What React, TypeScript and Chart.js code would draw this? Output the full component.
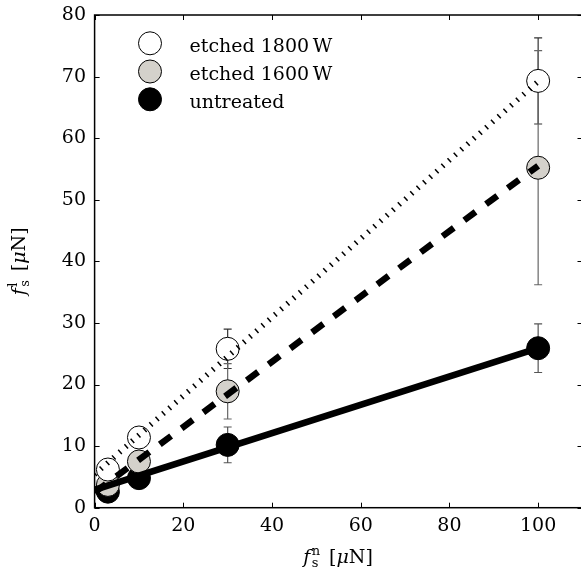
import React, { useEffect, useRef } from "react";
import { Chart, registerables } from "chart.js";

Chart.register(...registerables);

// ---------- data ----------
const normalForce = [3, 10, 30, 100];
const etched1800 = [6.2, 11.4, 25.8, 69.3];
const etched1800Err = [0.6, 0.8, 3.2, 7.0];
const etched1600 = [3.7, 7.5, 18.9, 55.2];
const etched1600Err = [0.5, 0.7, 4.5, 19.0];
const untreated = [2.6, 4.8, 10.2, 25.9];
const untreatedErr = [0.4, 0.6, 2.9, 3.95];

const fitX = [0, 100];
const fit1800 = [5.4, 69.2];
const fit1600 = [2.5, 55.5];
const fitUntreated = [2.9, 25.9];

const xTicks = [0, 20, 40, 60, 80, 100];
const yTicks = [0, 10, 20, 30, 40, 50, 60, 70, 80];
const seriesLabels = ["etched 1800\u2009W", "etched 1600\u2009W", "untreated"];
const seriesFill = ["#ffffff", "#d4d1cb", "#000000"];

const FAM = '"DejaVu Serif", serif';
const FS = 19;
const OFFY = 5; // canvas is shifted up by this many pixels inside the page

const pts = (xs: number[], ys: number[]) => xs.map((x, i) => ({ x, y: ys[i] }));

function drawMathLabel(ctx: CanvasRenderingContext2D, sup: string, cx: number, baseY: number) {
  const base = FS;
  const small = 13;
  ctx.save();
  ctx.fillStyle = "#000";
  ctx.textBaseline = "alphabetic";
  ctx.textAlign = "left";
  ctx.font = `italic ${base}px ${FAM}`;
  const wf = ctx.measureText("f").width;
  ctx.font = `${small}px ${FAM}`;
  const ws = Math.max(ctx.measureText("s").width, ctx.measureText(sup).width);
  ctx.font = `${base}px ${FAM}`;
  const wb = ctx.measureText("[").width;
  ctx.font = `italic ${base}px ${FAM}`;
  const wmu = ctx.measureText("\u03bc").width;
  ctx.font = `${base}px ${FAM}`;
  const wn = ctx.measureText("N]").width;
  const gap = 9;
  const total = wf + 1.5 + ws + gap + wb + wmu + wn;
  let x = cx - total / 2;
  ctx.font = `italic ${base}px ${FAM}`;
  ctx.fillText("f", x, baseY);
  x += wf + 1.5;
  ctx.font = `${small}px ${FAM}`;
  ctx.fillText("s", x, baseY + 4);
  ctx.fillText(sup, x, baseY - 8);
  x += ws + gap;
  ctx.font = `${base}px ${FAM}`;
  ctx.fillText("[", x, baseY);
  x += wb;
  ctx.font = `italic ${base}px ${FAM}`;
  ctx.fillText("\u03bc", x, baseY);
  x += wmu;
  ctx.font = `${base}px ${FAM}`;
  ctx.fillText("N]", x, baseY);
  ctx.restore();
}

const errorBars = [etched1800Err, etched1600Err, untreatedErr];
const seriesVals = [etched1800, etched1600, untreated];
const errorColors = ["#333", "#666", "#555"];

const decorPlugin = {
  id: "decor",
  beforeDatasetsDraw(chart: any) {
    const { ctx, scales } = chart;
    const xs = scales.x;
    const ys = scales.y;
    ctx.save();
    ctx.lineWidth = 1.2;
    errorBars.forEach((errs, si) => {
      ctx.strokeStyle = errorColors[si];
      normalForce.forEach((xv, i) => {
        const px = xs.getPixelForValue(xv);
        const y1 = ys.getPixelForValue(seriesVals[si][i] - errs[i]);
        const y2 = ys.getPixelForValue(seriesVals[si][i] + errs[i]);
        ctx.beginPath();
        ctx.moveTo(px, y1);
        ctx.lineTo(px, y2);
        ctx.moveTo(px - 4, y1);
        ctx.lineTo(px + 4, y1);
        ctx.moveTo(px - 4, y2);
        ctx.lineTo(px + 4, y2);
        ctx.stroke();
      });
    });
    ctx.restore();
  },
  afterDatasetsDraw(chart: any) {
    const { ctx, chartArea, scales } = chart;
    const { left, right, top, bottom } = chartArea;
    ctx.save();
    ctx.strokeStyle = "#000";
    ctx.lineWidth = 1;
    const tl = 5;
    ctx.beginPath();
    xTicks.forEach((v) => {
      const px = Math.round(scales.x.getPixelForValue(v)) + 0.5;
      ctx.moveTo(px, bottom);
      ctx.lineTo(px, bottom - tl);
      ctx.moveTo(px, top);
      ctx.lineTo(px, top + tl);
    });
    yTicks.forEach((v) => {
      const py = Math.round(scales.y.getPixelForValue(v)) + 0.5;
      ctx.moveTo(left, py);
      ctx.lineTo(left + tl, py);
      ctx.moveTo(right, py);
      ctx.lineTo(right - tl, py);
    });
    ctx.stroke();
    ctx.lineWidth = 1.5;
    ctx.strokeRect(left, top, right - left, bottom - top);

    const lx = 150;
    const ly = [43.3, 71.5, 99.3];
    seriesLabels.forEach((lab, i) => {
      const cy = ly[i] + OFFY;
      ctx.beginPath();
      ctx.arc(lx, cy, 11.5, 0, Math.PI * 2);
      ctx.fillStyle = seriesFill[i];
      ctx.fill();
      ctx.lineWidth = 1;
      ctx.strokeStyle = "#000";
      ctx.stroke();
      ctx.fillStyle = "#000";
      ctx.font = `${FS}px ${FAM}`;
      ctx.textAlign = "left";
      ctx.textBaseline = "alphabetic";
      ctx.fillText(lab, 189.5, cy + 8.5);
    });
    ctx.restore();
  },
  afterDraw(chart: any) {
    const { ctx, chartArea } = chart;
    drawMathLabel(ctx, "n", 338, 563 + OFFY);
    ctx.save();
    ctx.translate(25, (chartArea.top + chartArea.bottom) / 2);
    ctx.rotate(-Math.PI / 2);
    drawMathLabel(ctx, "l", 0, 0);
    ctx.restore();
  },
};

export default function App() {
  const ref = useRef<HTMLCanvasElement | null>(null);
  useEffect(() => {
    if (!ref.current) return;
    const tickFont = { family: FAM, size: FS };
    const markerDs = (label: string, ys: number[], fill: string, order: number) => ({
      type: "scatter" as const,
      label,
      data: pts(normalForce, ys),
      backgroundColor: fill,
      borderColor: "#000",
      borderWidth: 1,
      pointRadius: 11.5,
      pointHoverRadius: 11.5,
      showLine: false,
      order,
    });
    const lineDs = (ys: number[], width: number, dash: number[], order: number) => ({
      type: "line" as const,
      label: "",
      data: pts(fitX, ys),
      borderColor: "#000",
      borderWidth: width,
      borderDash: dash,
      borderCapStyle: "butt" as const,
      pointRadius: 0,
      showLine: true,
      fill: false,
      order,
    });
    const chart = new Chart(ref.current, {
      type: "scatter",
      data: {
        datasets: [
          lineDs(fit1800, 5.5, [1.5, 6.8], 0),
          lineDs(fit1600, 6.5, [14, 13], 1),
          lineDs(fitUntreated, 6.5, [], 2),
          markerDs(seriesLabels[0], etched1800, seriesFill[0], 10),
          markerDs(seriesLabels[1], etched1600, seriesFill[1], 11),
          markerDs(seriesLabels[2], untreated, seriesFill[2], 12),
        ] as any,
      },
      options: {
        animation: false,
        responsive: false,
        devicePixelRatio: 1,
        layout: { padding: { left: 0, top: 15, right: 7, bottom: 0 } },
        plugins: {
          legend: { display: false },
          tooltip: { enabled: false },
          title: { display: false },
        },
        scales: {
          x: {
            type: "linear",
            min: 0,
            max: 110,
            afterBuildTicks: (s: any) => {
              s.ticks = xTicks.map((v) => ({ value: v }));
            },
            afterFit: (s: any) => {
              s.height = 68.3;
            },
            grid: { display: false, drawTicks: false },
            border: { display: false },
            ticks: { font: tickFont, color: "#000", padding: 7, maxRotation: 0, autoSkip: false },
          },
          y: {
            type: "linear",
            min: 0,
            max: 80,
            afterBuildTicks: (s: any) => {
              s.ticks = yTicks.map((v) => ({ value: v }));
            },
            afterFit: (s: any) => {
              s.width = 94.6;
            },
            grid: { display: false, drawTicks: false },
            border: { display: false },
            ticks: { font: tickFont, color: "#000", padding: 8.6, autoSkip: false },
          },
        },
      } as any,
      plugins: [decorPlugin],
    });
    return () => chart.destroy();
  }, []);
  return (
    <div
      style={{
        position: "absolute",
        left: 0,
        top: 0,
        width: 581,
        height: 576,
        overflow: "hidden",
        background: "#fff",
      }}
    >
      <canvas
        ref={ref}
        width={595}
        height={581}
        style={{ display: "block", position: "absolute", left: 0, top: -OFFY }}
      />
    </div>
  );
}
